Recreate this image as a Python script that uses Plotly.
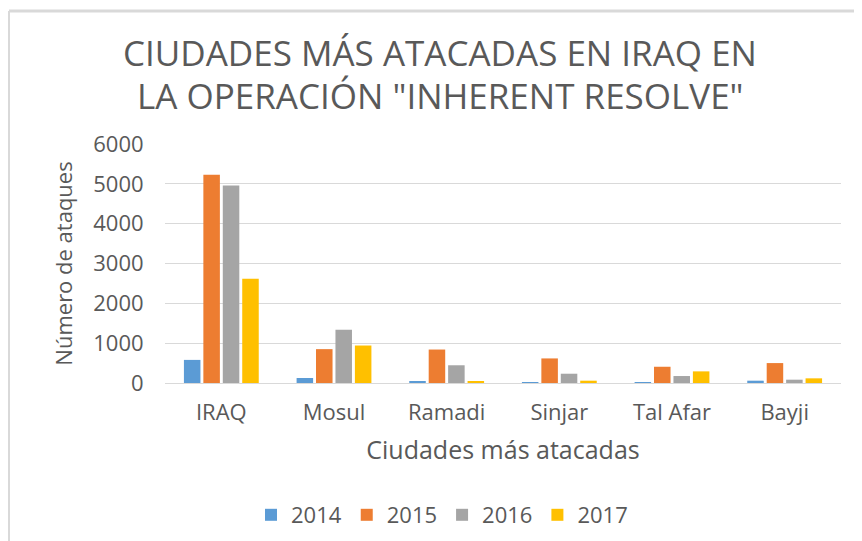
import plotly.graph_objects as go

categories = ["IRAQ", "Mosul", "Ramadi", "Sinjar", "Tal Afar", "Bayji"]
years = ["2014", "2015", "2016", "2017"]
v2014 = [580, 125, 30, 25, 25, 58]
v2015 = [5230, 850, 840, 617, 408, 500]
v2016 = [4960, 1336, 445, 233, 175, 83]
v2017 = [2620, 941, 30, 58, 292, 117]
y_ticks = [0, 1000, 2000, 3000, 4000, 5000, 6000]
title_lines = ["CIUDADES MÁS ATACADAS EN IRAQ EN", "LA OPERACIÓN \"INHERENT RESOLVE\""]

series = [v2014, v2015, v2016, v2017]
colors = ["#5B9BD5", "#ED7D31", "#A5A5A5", "#FFC000"]
FONT = "'Open Sans', sans-serif"
TXT = "#595959"

# page body has an 8px margin; work in screen pixels and shift
OFF = 8
W, H = 862 - OFF, 541 - OFF
L, R, T, B = 165 - OFF, 841 - OFF, 144 - OFF, 383 - OFF

fig = go.Figure()
for name, vals, col in zip(years, series, colors):
    fig.add_trace(go.Bar(x=categories, y=vals, name=name, marker=dict(color=col, line=dict(width=0))))

annotations = []
for i, (txt, yc) in enumerate(zip(title_lines, [52, 95])):
    annotations.append(dict(text=txt, xref="paper", yref="paper",
                            x=(440 - OFF - L) / (R - L), y=(B - (yc - OFF)) / (B - T),
                            xanchor="center", yanchor="middle", showarrow=False,
                            font=dict(size=35, color=TXT, family=FONT)))

fig.update_layout(
    width=W, height=H,
    margin=dict(l=L, r=W - R, t=T, b=H - B, autoexpand=False),
    paper_bgcolor="white", plot_bgcolor="white",
    font=dict(family=FONT, color=TXT),
    barmode="group", bargap=0.31, bargroupgap=0.15,
    annotations=annotations,
    legend=dict(orientation="h", x=(442 - OFF) / W, xref="container", xanchor="center",
                y=1 - (515 - OFF) / H, yref="container", yanchor="middle",
                font=dict(size=22, color=TXT), itemwidth=30, traceorder="normal"),
    xaxis=dict(showgrid=False, showline=True, linecolor="#D9D9D9", linewidth=1,
               ticks="outside", ticklen=10, tickcolor="rgba(0,0,0,0)",
               tickfont=dict(size=22, color=TXT),
               title=dict(text="Ciudades más atacadas", font=dict(size=25, color=TXT), standoff=16)),
    yaxis=dict(range=[0, 6000], tickvals=y_ticks, showgrid=True, gridcolor="#D9D9D9", gridwidth=1,
               zeroline=False, ticks="outside", ticklen=16, tickcolor="rgba(0,0,0,0)",
               tickfont=dict(size=22, color=TXT),
               title=dict(text="Número de ataques", font=dict(size=22, color=TXT), standoff=14)),
    shapes=[
        dict(type="line", xref="paper", yref="paper",
             x0=(1 - L) / (R - L), x1=(W - L) / (R - L),
             y0=(B - 3) / (B - T), y1=(B - 3) / (B - T),
             line=dict(color="#D9D9D9", width=3)),
        dict(type="line", xref="paper", yref="paper",
             x0=(1 - L) / (R - L), x1=(1 - L) / (R - L),
             y0=(B - 3) / (B - T), y1=(B - H) / (B - T),
             line=dict(color="#D9D9D9", width=2)),
    ],
)
fig.write_html("out.html")
